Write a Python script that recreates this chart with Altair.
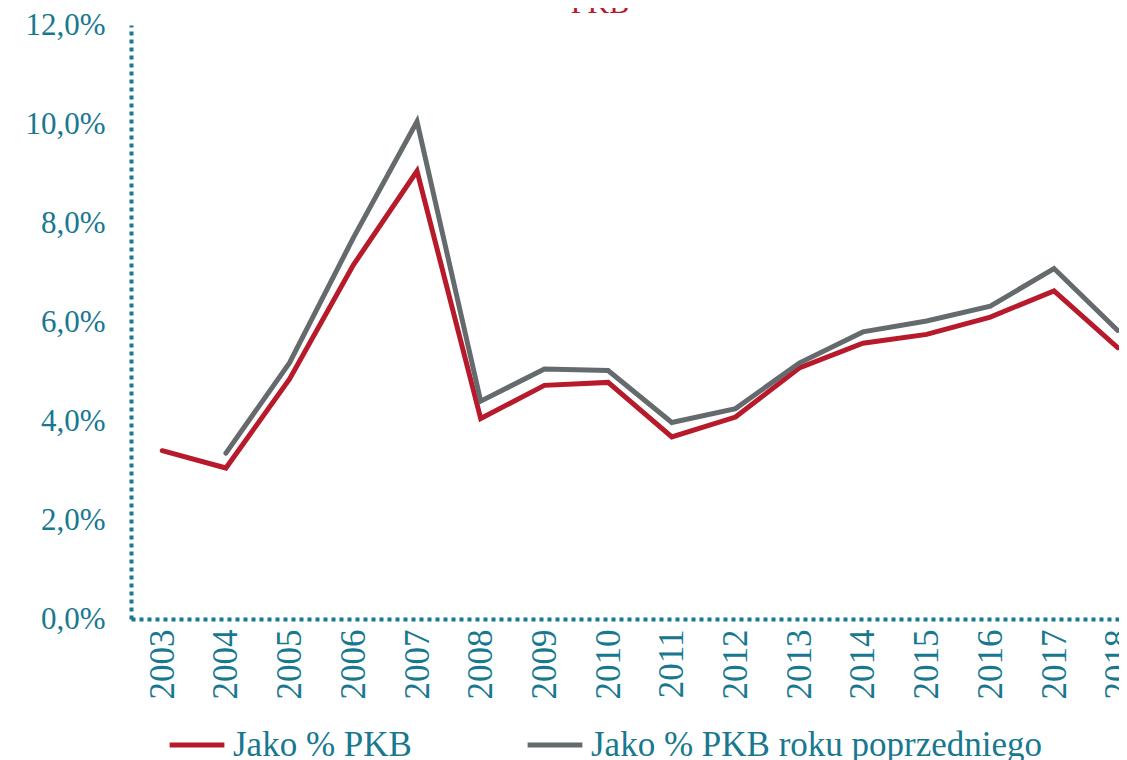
import altair as alt
import pandas as pd

years = list(range(2003, 2019))
series_names = ["Jako % PKB", "Jako % PKB roku poprzedniego"]
pkb = [3.40, 3.05, 4.85, 7.15, 9.05, 4.05, 4.72, 4.78, 3.68, 4.08, 5.07, 5.57, 5.75, 6.10, 6.63, 5.48]
pkb_prev = [None, 3.35, 5.18, 7.70, 10.05, 4.40, 5.05, 5.02, 3.97, 4.25, 5.17, 5.80, 6.02, 6.32, 7.08, 5.83]
y_ticks = [0, 2, 4, 6, 8, 10, 12]

rows = []
for y, a, b in zip(years, pkb, pkb_prev):
    rows.append({"rok": y, "seria": series_names[0], "wartosc": a})
    if b is not None:
        rows.append({"rok": y, "seria": series_names[1], "wartosc": b})
df = pd.DataFrame(rows)

TEAL = "#17788f"
RED = "#b71a2b"
GRAY = "#656a6d"
FONT = "Liberation Serif"

lines = alt.Chart(df).mark_line(strokeWidth=5, strokeCap="round").encode(
    x=alt.X("rok:Q",
            scale=alt.Scale(domain=[2002.51, 2018.02], nice=False, zero=False),
            axis=alt.Axis(values=years, labelAngle=-90, format="d", title=None,
                          ticks=False, grid=False, labelPadding=10,
                          labelAlign="right", labelBaseline="middle",
                          domainColor=TEAL, domainWidth=4, domainDash=[4, 4],
                          labelColor=TEAL, labelFont=FONT, labelFontSize=35)),
    y=alt.Y("wartosc:Q",
            scale=alt.Scale(domain=[0, 12], nice=False),
            axis=alt.Axis(values=y_ticks, title=None, ticks=False, grid=False,
                          labelExpr="replace(format(datum.value, '.1f'), '.', ',') + '%'",
                          labelPadding=26, domainColor=TEAL, domainWidth=4,
                          domainDash=[4, 4], labelColor=TEAL, labelFont=FONT,
                          labelFontSize=31)),
    color=alt.Color("seria:N",
                    scale=alt.Scale(domain=series_names, range=[RED, GRAY]),
                    legend=alt.Legend(orient="none", legendX=36, legendY=690,
                                      direction="horizontal", title=None,
                                      symbolType="stroke", symbolSize=3000,
                                      symbolStrokeWidth=5, labelFont=FONT,
                                      labelFontSize=35, labelColor=TEAL,
                                      labelLimit=700, columnPadding=105,
                                      labelOffset=6)),
)

title = alt.Chart(pd.DataFrame({"t": ["PKB"]})).mark_text(
    font=FONT, fontSize=30, color=RED, align="center", baseline="alphabetic"
).encode(text="t:N", x=alt.value(469), y=alt.value(-12))

chart = alt.layer(lines, title).properties(
    width=988, height=594,
    autosize=alt.AutoSizeParams(type="none"),
    padding={"left": 123, "top": 17, "right": 0, "bottom": 141},
).configure_view(stroke=None)

chart.save("out.html", embed_options={"renderer": "svg", "actions": False})
